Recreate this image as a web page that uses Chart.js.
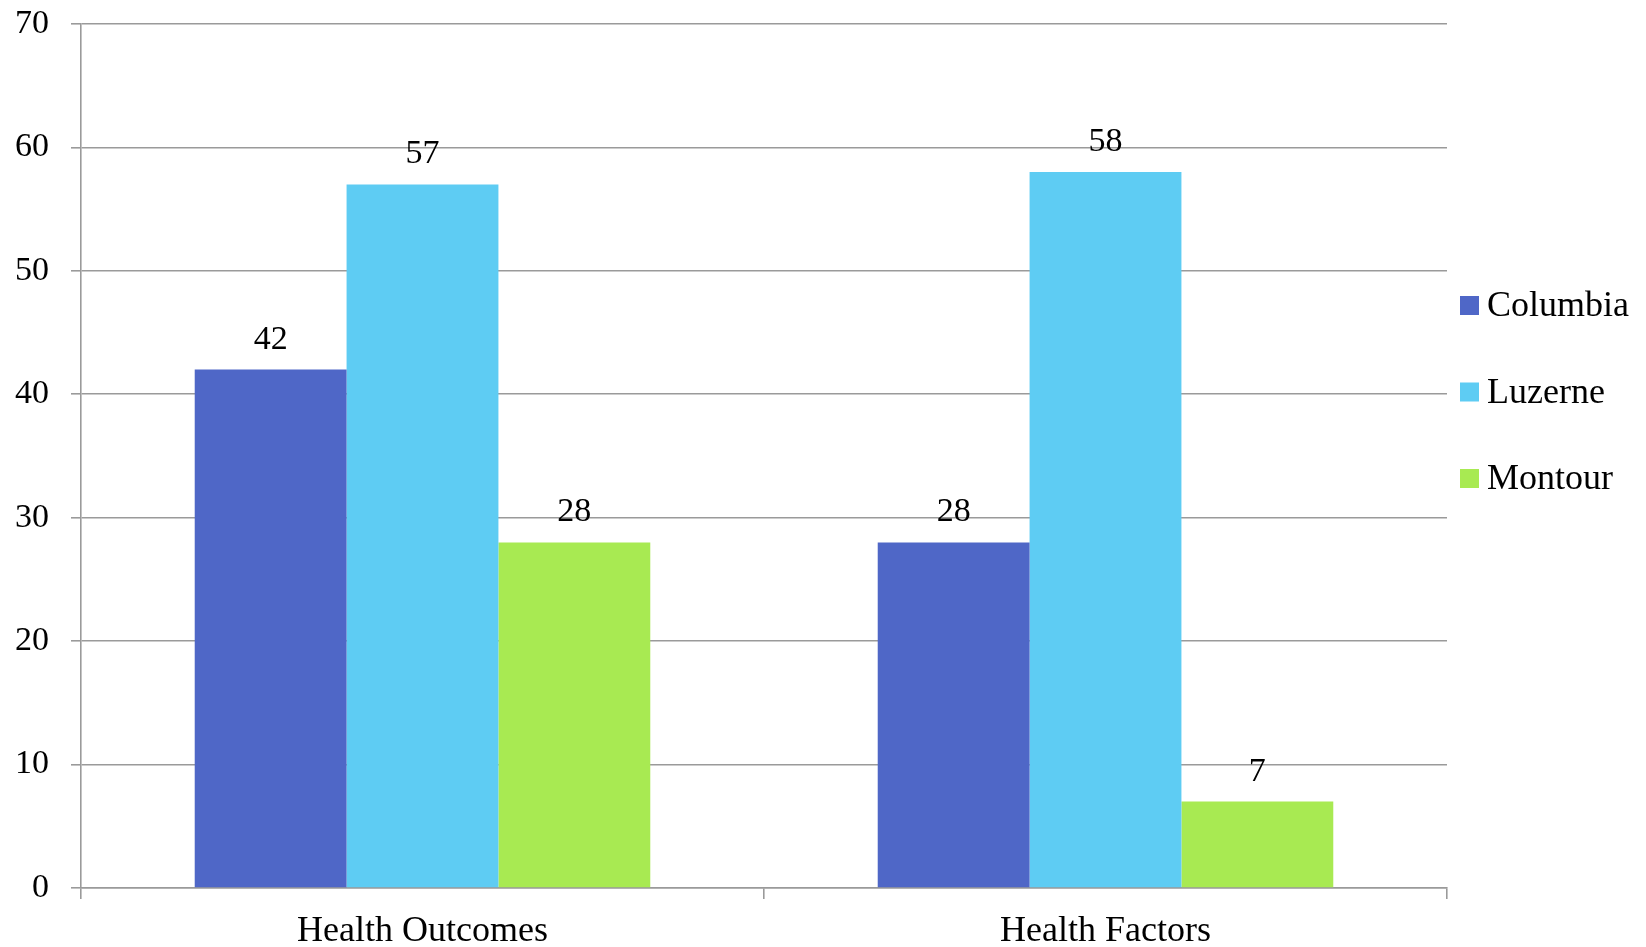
<!DOCTYPE html>
<html>
<head>
<meta charset="utf-8">
<script src="https://cdn.jsdelivr.net/npm/chart.js@4"></script>
<style>
  html, body { margin: 0; padding: 0; background: #ffffff; }
  canvas { display: block; }
</style>
</head>
<body>
<canvas id="chart" width="1646" height="947"></canvas>
<script>
// County ranking comparison
const categories = ['Health Outcomes', 'Health Factors'];
const seriesNames = ['Columbia', 'Luzerne', 'Montour'];
const columbia = [42, 28];
const luzerne = [57, 58];
const montour = [28, 7];
const yTicks = [0, 10, 20, 30, 40, 50, 60, 70];

const colors = ['#4F67C7', '#5ECCF3', '#A8EA52'];
const FONT = "'Liberation Serif', 'Times New Roman', serif";
const GRID = '#9a9a9a';

// value labels above every bar
const valueLabels = {
  id: 'valueLabels',
  afterDatasetsDraw(chart) {
    const ctx = chart.ctx;
    ctx.save();
    ctx.font = '34px ' + FONT;
    ctx.fillStyle = '#000';
    ctx.textAlign = 'center';
    ctx.textBaseline = 'alphabetic';
    chart.data.datasets.forEach((ds, i) => {
      chart.getDatasetMeta(i).data.forEach((bar, j) => {
        ctx.fillText(String(ds.data[j]), bar.x, bar.y - 21);
      });
    });
    ctx.restore();
  }
};

// legend column to the right of the plot
const sideLegend = {
  id: 'sideLegend',
  afterDraw(chart) {
    const ctx = chart.ctx;
    ctx.save();
    ctx.font = '36px ' + FONT;
    ctx.textAlign = 'left';
    ctx.textBaseline = 'alphabetic';
    const x = chart.chartArea.right + 13;
    const top0 = 296;
    const step = 86.5;
    chart.data.datasets.forEach((ds, i) => {
      const y = top0 + step * i;
      ctx.fillStyle = ds.backgroundColor;
      ctx.fillRect(x, y, 19, 19);
      ctx.fillStyle = '#000';
      ctx.fillText(ds.label, x + 27, y + 20);
    });
    ctx.restore();
  }
};

const datasets = [columbia, luzerne, montour].map((values, i) => ({
  label: seriesNames[i],
  data: values,
  backgroundColor: colors[i],
  borderWidth: 0,
  categoryPercentage: 0.667,
  barPercentage: 1.0
}));

new Chart(document.getElementById('chart'), {
  type: 'bar',
  data: { labels: categories, datasets },
  options: {
    responsive: false,
    animation: false,
    devicePixelRatio: 1,
    layout: { padding: { top: 24, right: 199, left: 0, bottom: 0 } },
    plugins: { legend: { display: false }, tooltip: { enabled: false } },
    scales: {
      x: {
        offset: true,
        grid: { offset: true, drawOnChartArea: false, drawTicks: true, tickLength: 11, color: GRID, lineWidth: 1.6 },
        border: { color: GRID, width: 1.6 },
        ticks: { font: { family: FONT, size: 36 }, color: '#000', padding: 11 },
        afterFit(scale) { scale.height = 59; }
      },
      y: {
        min: 0,
        max: 70,
        afterBuildTicks(scale) { scale.ticks = yTicks.map(v => ({ value: v })); },
        grid: { color: GRID, lineWidth: 1.6, tickLength: 10 },
        border: { color: GRID, width: 1.6 },
        ticks: { font: { family: FONT, size: 34 }, color: '#000', padding: 22 },
        afterFit(scale) {
          scale.width = 81;
          scale.paddingTop = 0;
          scale.paddingBottom = 0;
        }
      }
    }
  },
  plugins: [valueLabels, sideLegend]
});
</script>
</body>
</html>
